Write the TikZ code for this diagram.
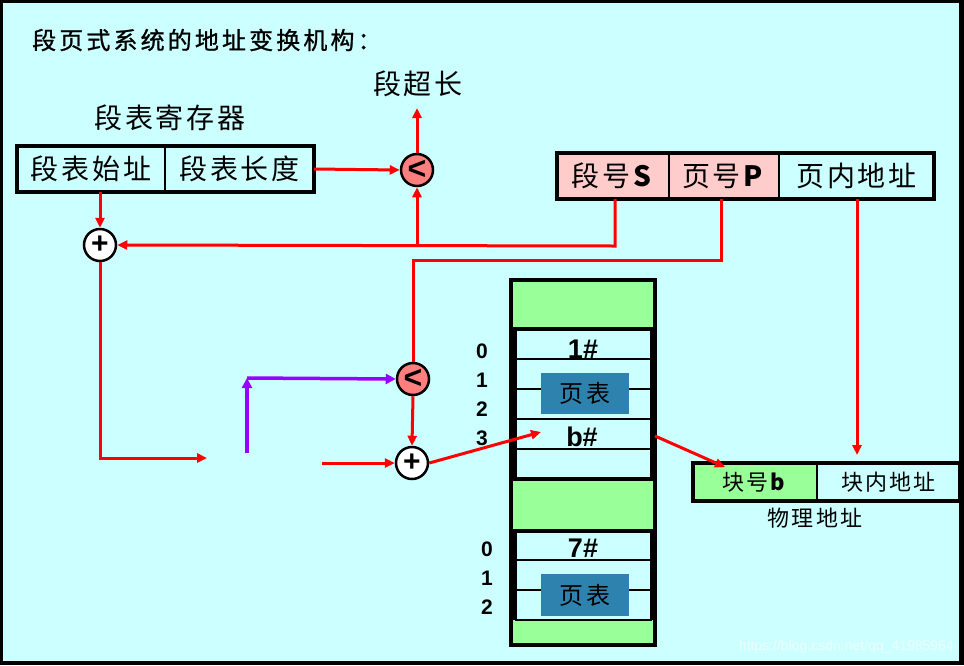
\documentclass[tikz,border=0pt]{standalone}
\usepackage{fontspec}
\setmainfont{Liberation Sans}
\newfontfamily\cjk[LetterSpace=10]{Noto Sans CJK SC}
\newfontfamily\cjktitle[LetterSpace=13,FakeBold=1]{Noto Sans CJK SC}
\usetikzlibrary{arrows.meta}
\definecolor{bgc}{HTML}{CCFFFF}
\definecolor{grn}{HTML}{99FF99}
\definecolor{pnk}{HTML}{FFCCCC}
\definecolor{salm}{HTML}{FF7F7F}
\definecolor{tbl}{HTML}{2E83AE}
\definecolor{purp}{HTML}{9900FF}
\definecolor{redl}{HTML}{FF0000}
\newcommand{\fs}[1]{\fontsize{#1}{#1}\selectfont}
\begin{document}
\begin{tikzpicture}[x=1pt,y=-1pt,
  cell/.style={inner sep=0pt,outer sep=0pt,minimum height=46pt,anchor=north west},
  link/.style={draw=redl,line width=3pt},
  arr/.style={link,-{Triangle[length=10pt,width=9pt]}},
  parr/.style={draw=purp,line width=3.5pt,-{Triangle[length=10pt,width=10pt]}},
  cmpc/.style={circle,draw=black,line width=2.5pt,fill=salm,minimum size=32pt,inner sep=0pt,font=\bfseries\fs{32}},
  addc/.style={circle,draw=black,line width=2.5pt,fill=white,minimum size=32pt,inner sep=0pt,font=\bfseries\fs{30}},
  lbl/.style={inner sep=0pt,font=\cjk\fs{28}},
  num/.style={inner sep=0pt,font=\bfseries\fs{21}},
  blk/.style={inner sep=0pt,font=\bfseries\fs{27}},
  ptab/.style={fill=tbl,inner sep=0pt,minimum width=88pt,minimum height=41pt,font=\cjk\fs{24}},
  thick4/.style={draw=black,line width=4pt},
  thin1/.style={draw=black,line width=1.5pt}]
\useasboundingbox (0,0) rectangle (964,665);
\fill[black] (0,0) rectangle (964,665);
\fill[bgc] (3,3) rectangle (959,661);
% title
\node[anchor=west,inner sep=0pt,font=\cjktitle\fs{24}] (title) at (32,40) {段页式系统的地址变换机构：};
% segment table register
\node[lbl] (reglbl) at (170,118) {段表寄存器};
\node[cell,minimum width=148pt,font=\cjk\fs{28}] (stbase) at (17,146) {段表始址};
\node[cell,minimum width=149pt,font=\cjk\fs{28}] (stlen) at (165,146) {段表长度};
\draw[thick4] (stbase.north west) rectangle (stlen.south east);
\draw[thin1] (stbase.north east) -- (stbase.south east);
% comparator 1, adder 1
\node[cmpc] (cmp1) at (417,170) {<};
\node[lbl] (over) at (418,84) {段超长};
\coordinate (overpt) at (417,108);
\node[addc] (add1) at (100,245) {+};
% logical address
\node[cell,minimum width=112pt,fill=pnk,font=\fs{28}] (segS) at (557,153) {\cjk 段号\textbf{S}};
\node[cell,minimum width=110pt,fill=pnk,font=\fs{28}] (pageP) at (669,153) {\cjk 页号\textbf{P}};
\node[cell,minimum width=155pt,font=\cjk\fs{28}] (offs) at (779,153) {页内地址};
\draw[thick4] (segS.north west) rectangle (offs.south east);
\draw[thin1] (segS.north east) -- (segS.south east);
\draw[thin1] (pageP.north east) -- (pageP.south east);
% comparator 2, adder 2
\node[cmpc] (cmp2) at (413,379) {<};
\node[addc] (add2) at (412,463) {+};
% memory column
\draw[thick4,fill=grn] (511,280) rectangle (655,645);
\draw[thick4,fill=bgc] (515,329) rectangle (652,479);
\foreach \yy in {359,389,419,449} \draw[thin1] (515,\yy) -- (652,\yy);
\node[ptab] (pt1) at (585,393.5) {页表};
\node[blk] (b1) at (583,349) {1\#};
\node[blk] (bb) at (582,437) {b\#};
\fill[bgc] (515,531) rectangle (652,620);
\draw[thick4] (515,620) -- (515,531) -- (652,531) -- (652,620);
\foreach \yy in {560,590,620} \draw[thin1] (515,\yy) -- (652,\yy);
\node[ptab,minimum height=42pt] (pt2) at (585,595) {页表};
\node[blk] (b7) at (583,548) {7\#};
\node[num] (n0) at (482,351) {0};
\node[num] (n1) at (482,380) {1};
\node[num] (n2) at (482,409) {2};
\node[num] (n3) at (482,438) {3};
\node[num] (m0) at (487,549) {0};
\node[num] (m1) at (487,578) {1};
\node[num] (m2) at (487,607) {2};
\coordinate (memr) at (655,436);
\coordinate (btarget) at (541,432);
% physical address
\node[cell,minimum width=124pt,minimum height=38pt,fill=grn,font=\fs{22}] (pblk) at (693,463) {\cjk 块号\textbf{b}};
\node[cell,minimum width=143pt,minimum height=38pt,font=\cjk\fs{22}] (poff) at (817,463) {块内地址};
\draw[thick4] (pblk.north west) rectangle (poff.south east);
\draw[thin1] (pblk.north east) -- (pblk.south east);
\node[inner sep=0pt,font=\cjk\fs{22}] (phys) at (815,518) {物理地址};
\coordinate (pbtarget) at (725,467);
% connectors
\draw[arr] (stlen.east) -- (cmp1.west);
\draw[arr] (cmp1.north) -- (overpt);
\draw[arr] (add1.north |- stbase.south) -- (add1.north);
\draw[arr] (segS.south -| 615,0) -- (615,246) -- (add1.east);
\draw[arr] (417,246) -- (cmp1.south);
\draw[link] (pageP.south -| 721,0) -- (721,260) -- (413,260) -- (cmp2.north);
\draw[arr] (cmp2.south) -- (add2.north);
\coordinate (gapL) at (207,458);
\coordinate (gapR) at (322,463);
\draw[arr] (add1.south) -- (100,458) -- (gapL);
\draw[arr] (gapR) -- (add2.west);
\coordinate (pstart) at (247,453);
\coordinate (pcorner) at (247,378);
\draw[parr] (pstart) -- (pcorner);
\draw[parr] (pcorner) -- (cmp2.west);
\draw[arr] (add2.east) -- (btarget);
\draw[arr] (memr) -- (pbtarget);
\coordinate (offtarget) at (857,455);
\draw[arr] (offs.south -| 857,0) -- (offtarget);
% watermark
\node[anchor=east,inner sep=0pt,font=\fs{14},text=white,opacity=0.6] (wm) at (954,647) {https://blog.csdn.net/qq\_41985964};
\end{tikzpicture}
\end{document}
